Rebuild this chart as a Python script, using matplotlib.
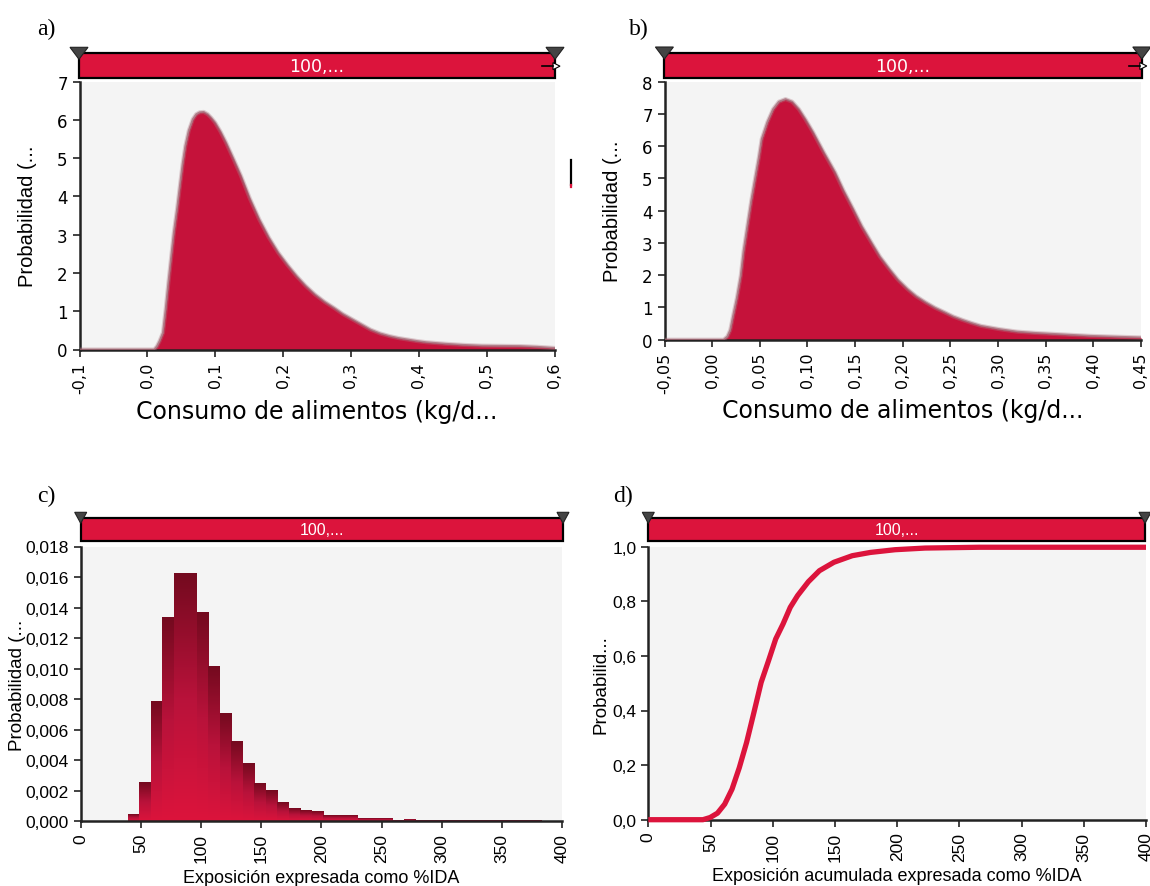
import numpy as np
import matplotlib
matplotlib.use("Agg")
import matplotlib.pyplot as plt
from matplotlib.patches import Rectangle, Polygon
from matplotlib.lines import Line2D
from matplotlib.colors import LinearSegmentedColormap

# ---------------- data ----------------
# a) food consumption density (kg/day)
cons_a_x = [-0.1, 0.0, 0.010, 0.014, 0.018, 0.023, 0.027, 0.031, 0.035, 0.039,
            0.044, 0.048, 0.052, 0.056, 0.061, 0.067, 0.072, 0.077, 0.083, 0.089,
            0.094, 0.100, 0.108, 0.116, 0.127, 0.138, 0.151, 0.165, 0.179, 0.193,
            0.207, 0.220, 0.233, 0.247, 0.261, 0.275, 0.288, 0.302, 0.316, 0.329,
            0.343, 0.357, 0.370, 0.384, 0.398, 0.411, 0.425, 0.439, 0.466, 0.493,
            0.520, 0.548, 0.575, 0.600]
cons_a_y = [0, 0, 0, 0.08, 0.22, 0.44, 1.05, 1.75, 2.40, 3.05,
            3.70, 4.28, 4.85, 5.32, 5.72, 6.02, 6.15, 6.20, 6.21, 6.15,
            6.06, 5.93, 5.69, 5.41, 4.98, 4.54, 3.95, 3.40, 2.93, 2.53,
            2.20, 1.92, 1.67, 1.44, 1.25, 1.09, 0.93, 0.79, 0.65, 0.52,
            0.42, 0.35, 0.30, 0.26, 0.22, 0.19, 0.17, 0.15, 0.12, 0.10,
            0.095, 0.09, 0.07, 0.04]

# b) food consumption density (kg/day)
cons_b_x = [-0.05, 0.0, 0.012, 0.016, 0.019, 0.022, 0.026, 0.030, 0.033, 0.037,
            0.041, 0.045, 0.049, 0.052, 0.058, 0.064, 0.070, 0.077, 0.084, 0.091,
            0.098, 0.106, 0.117, 0.129, 0.138, 0.148, 0.157, 0.167, 0.176, 0.186,
            0.195, 0.205, 0.214, 0.224, 0.234, 0.244, 0.253, 0.263, 0.272, 0.282,
            0.301, 0.320, 0.339, 0.358, 0.377, 0.396, 0.416, 0.433, 0.450]
cons_b_y = [0, 0, 0, 0.10, 0.30, 0.74, 1.30, 1.98, 2.75, 3.53,
            4.30, 4.98, 5.65, 6.22, 6.75, 7.15, 7.38, 7.46, 7.38, 7.15,
            6.83, 6.43, 5.82, 5.19, 4.62, 4.05, 3.52, 3.02, 2.58, 2.19,
            1.86, 1.57, 1.35, 1.16, 0.99, 0.85, 0.72, 0.61, 0.52, 0.43,
            0.33, 0.25, 0.21, 0.18, 0.15, 0.12, 0.10, 0.085, 0.07]

# c) exposure histogram (%IDA)
hist_left = [39.1, 48.65, 58.2, 67.75, 77.3, 86.85, 96.4, 105.95, 115.5, 125.05,
             134.6, 144.15, 153.7, 163.25, 172.8, 182.35, 191.9, 201.45, 211.0,
             220.55, 230.1, 239.65, 249.2, 258.75, 268.3, 277.85, 287.4, 296.95,
             306.5, 316.05, 325.6, 335.15, 344.7, 354.25, 363.8, 373.35]
hist_width = 9.55
hist_prob = [0.00041, 0.00255, 0.00785, 0.0133, 0.0162, 0.0162, 0.01368, 0.01015,
             0.00707, 0.00524, 0.00375, 0.00244, 0.00199, 0.0012, 0.00085, 0.00068,
             0.00059, 0.00039, 0.00039, 0.00039, 0.00015, 0.00015, 0.00015, 0.00005,
             0.0001, 0.00005, 0.00005, 0.00005, 0.00005, 0.00005, 0.00005, 0.00005,
             0.00005, 0.00005, 0.00005, 0.00005]

# d) cumulative exposure (%IDA)
cdf_x = [0, 43.9, 49.7, 55.6, 61.4, 67.3, 73.1, 79.0, 84.9, 90.7, 96.6, 102.4,
         108.3, 114.1, 120.0, 128.7, 137.5, 149.2, 163.9, 178.5, 198.4, 222.4,
         266.3, 400]
cdf_y = [0.0, 0.0, 0.008, 0.024, 0.057, 0.112, 0.19, 0.283, 0.393, 0.503, 0.582,
         0.662, 0.717, 0.778, 0.821, 0.872, 0.912, 0.943, 0.967, 0.979, 0.989,
         0.995, 0.998, 0.998]

ticks_a_x = [-0.1, 0.0, 0.1, 0.2, 0.3, 0.4, 0.5, 0.6]
labels_a_x = ["-0,1", "0,0", "0,1", "0,2", "0,3", "0,4", "0,5", "0,6"]
ticks_a_y = [0, 1, 2, 3, 4, 5, 6, 7]
ticks_b_x = [-0.05, 0.0, 0.05, 0.10, 0.15, 0.20, 0.25, 0.30, 0.35, 0.40, 0.45]
labels_b_x = ["-0,05", "0,00", "0,05", "0,10", "0,15", "0,20", "0,25", "0,30",
              "0,35", "0,40", "0,45"]
ticks_b_y = [0, 1, 2, 3, 4, 5, 6, 7, 8]
ticks_cd_x = [0, 50, 100, 150, 200, 250, 300, 350, 400]
ticks_c_y = [0.0, 0.002, 0.004, 0.006, 0.008, 0.010, 0.012, 0.014, 0.016, 0.018]
labels_c_y = ["0,000", "0,002", "0,004", "0,006", "0,008", "0,010", "0,012",
              "0,014", "0,016", "0,018"]
ticks_d_y = [0.0, 0.2, 0.4, 0.6, 0.8, 1.0]
labels_d_y = ["0,0", "0,2", "0,4", "0,6", "0,8", "1,0"]

# ---------------- styling ----------------
W, H = 1150, 887
CRIMSON = "#DC143C"
FILL = "#C5123A"
BG = "#F4F4F4"
SPINE = "#222222"
WIDE = ["DejaVu Sans"]
NARROW = ["Liberation Sans", "DejaVu Sans"]
SERIF = ["Liberation Serif", "DejaVu Serif"]

fig = plt.figure(figsize=(W / 100, H / 100), dpi=100)
fig.patch.set_facecolor("white")


def fx(px):
    return px / W


def fy(py):
    return 1 - py / H


def make_axes(left, top, right, bottom):
    ax = fig.add_axes([fx(left), fy(bottom), (right - left) / W, (bottom - top) / H])
    ax.set_facecolor(BG)
    for s in ("top", "right"):
        ax.spines[s].set_visible(False)
    for s in ("left", "bottom"):
        ax.spines[s].set_color(SPINE)
        ax.spines[s].set_linewidth(1.8)
    ax.tick_params(direction="out", length=5, width=1.2, color=SPINE)
    return ax


def header(left, top, right, bottom, font, size, arrow=False, tri_w=18, tri_h=12):
    fig.add_artist(Rectangle((fx(left), fy(bottom)), (right - left) / W,
                             (bottom - top) / H, transform=fig.transFigure,
                             facecolor=CRIMSON, edgecolor="black", lw=1.6))
    fig.text(fx((left + right) / 2), fy((top + bottom) / 2), "100,...",
             color="white", ha="center", va="center", family=font, fontsize=size)
    for cx in (left, right):
        pts = [(fx(cx - tri_w / 2), fy(top - 6)), (fx(cx + tri_w / 2), fy(top - 6)),
               (fx(cx), fy(top - 6 + tri_h))]
        fig.add_artist(Polygon(pts, closed=True, transform=fig.transFigure,
                               facecolor="#444444", edgecolor="#222222", lw=0.8))
    if arrow:
        mid = (top + bottom) / 2 + 0.5
        fig.add_artist(Line2D([fx(right - 13), fx(right - 2)], [fy(mid), fy(mid)],
                              transform=fig.transFigure, color="black", lw=1.2))
        pts = [(fx(right - 2), fy(mid - 3.5)), (fx(right - 2), fy(mid + 3.5)),
               (fx(right + 5), fy(mid))]
        fig.add_artist(Polygon(pts, closed=True, transform=fig.transFigure,
                               facecolor="white", edgecolor="black", lw=0.8))


def density_panel(ax, xs, ys, xlim, ylim):
    ax.fill_between(xs, ys, 0, color=FILL, lw=0, zorder=2)
    # soft outline around the filled density
    ax.plot(xs, ys, color="#B07A86", lw=3.0, alpha=0.35, zorder=3,
            solid_joinstyle="round")
    ax.plot(xs, ys, color="#A0606E", lw=1.4, alpha=0.7, zorder=3,
            solid_joinstyle="round")
    ax.set_xlim(*xlim)
    ax.set_ylim(*ylim)


# ---------------- a) ----------------
ax_a = make_axes(79.5, 82.7, 554.5, 350.5)
density_panel(ax_a, cons_a_x, cons_a_y, (-0.1, 0.6), (0, 7))
ax_a.set_xticks(ticks_a_x, labels_a_x, rotation=90, family=WIDE, fontsize=11.5)
ax_a.set_yticks(ticks_a_y, [str(t) for t in ticks_a_y], family=WIDE, fontsize=12)
ax_a.set_xlabel("Consumo de alimentos (kg/d...", family=WIDE, fontsize=17)
ax_a.set_ylabel("Probabilidad (...", family=NARROW, fontsize=14.5)
ax_a.xaxis.set_label_coords(0.5, -0.23)
ax_a.xaxis.label.set_va("center")
ax_a.yaxis.set_label_coords(-0.11, 0.5)
ax_a.yaxis.label.set_va("center")
header(79, 54.3, 555, 79, WIDE, 12.5, arrow=True)
fig.text(fx(37), fy(29), "a)", family=SERIF, fontsize=17, ha="left", va="center")

# small marker to the right of panel a
fig.add_artist(Line2D([fx(571), fx(571)], [fy(161), fy(186)],
                      transform=fig.transFigure, color="black", lw=1.6))
fig.add_artist(Line2D([fx(571), fx(571)], [fy(186), fy(188)],
                      transform=fig.transFigure, color=CRIMSON, lw=1.6))

# ---------------- b) ----------------
ax_b = make_axes(664.5, 82.7, 1141, 340.7)
density_panel(ax_b, cons_b_x, cons_b_y, (-0.05, 0.45), (0, 8))
ax_b.set_xticks(ticks_b_x, labels_b_x, rotation=90, family=WIDE, fontsize=11.5)
ax_b.set_yticks(ticks_b_y, [str(t) for t in ticks_b_y], family=WIDE, fontsize=12)
ax_b.set_xlabel("Consumo de alimentos (kg/d...", family=WIDE, fontsize=17)
ax_b.set_ylabel("Probabilidad (...", family=NARROW, fontsize=14.5)
ax_b.xaxis.set_label_coords(0.5, -0.274)
ax_b.xaxis.label.set_va("center")
ax_b.yaxis.set_label_coords(-0.11, 0.5)
ax_b.yaxis.label.set_va("center")
header(664.4, 54, 1141.8, 79, WIDE, 12.5, arrow=True)
fig.text(fx(629), fy(29), "b)", family=SERIF, fontsize=17, ha="left", va="center")

# ---------------- c) ----------------
ax_c = make_axes(80.7, 547.5, 562, 822.3)
bar_cmap = LinearSegmentedColormap.from_list("bar", ["#DC143C", "#B8123A", "#740A1F"])
grad = np.linspace(0, 1, 128).reshape(-1, 1)
for left, p in zip(hist_left, hist_prob):
    ax_c.imshow(grad, extent=[left, left + hist_width, 0, p], origin="lower",
                aspect="auto", cmap=bar_cmap, zorder=2, interpolation="bilinear")
ax_c.set_xlim(0, 400)
ax_c.set_ylim(0, 0.018)
ax_c.set_aspect("auto")
ax_c.set_xticks(ticks_cd_x, [str(t) for t in ticks_cd_x], rotation=90,
                family=NARROW, fontsize=12.5)
ax_c.set_yticks(ticks_c_y, labels_c_y, family=NARROW, fontsize=12.5)
ax_c.set_xlabel("Exposición expresada como %IDA", family=NARROW, fontsize=13)
ax_c.set_ylabel("Probabilidad (...", family=NARROW, fontsize=13.5)
ax_c.xaxis.set_label_coords(0.5, -0.203)
ax_c.xaxis.label.set_va("center")
ax_c.yaxis.set_label_coords(-0.132, 0.5)
ax_c.yaxis.label.set_va("center")
header(80.7, 519.3, 563, 542.3, NARROW, 11.5, tri_w=12, tri_h=11)
fig.text(fx(37), fy(496), "c)", family=SERIF, fontsize=17, ha="left", va="center")

# ---------------- d) ----------------
ax_d = make_axes(648.3, 547.7, 1146, 820.7)
ax_d.plot(cdf_x, cdf_y, color=CRIMSON, lw=3.8, solid_capstyle="butt", zorder=3,
          clip_on=False)
ax_d.set_xlim(0, 400)
ax_d.set_ylim(0, 1.0)
ax_d.set_xticks(ticks_cd_x, [str(t) for t in ticks_cd_x], rotation=90,
                family=NARROW, fontsize=12.5)
ax_d.set_yticks(ticks_d_y, labels_d_y, family=NARROW, fontsize=12.5)
ax_d.set_xlabel("Exposición acumulada expresada como %IDA", family=NARROW, fontsize=13)
ax_d.set_ylabel("Probabilid...", family=NARROW, fontsize=13.5)
ax_d.xaxis.set_label_coords(0.5, -0.206)
ax_d.xaxis.label.set_va("center")
ax_d.yaxis.set_label_coords(-0.095, 0.5)
ax_d.yaxis.label.set_va("center")
header(648.3, 519.3, 1145, 542.3, NARROW, 11.5, tri_w=12, tri_h=11)
fig.text(fx(613), fy(496), "d)", family=SERIF, fontsize=17, ha="left", va="center")

fig.savefig("out.png", dpi=100, facecolor="white")
